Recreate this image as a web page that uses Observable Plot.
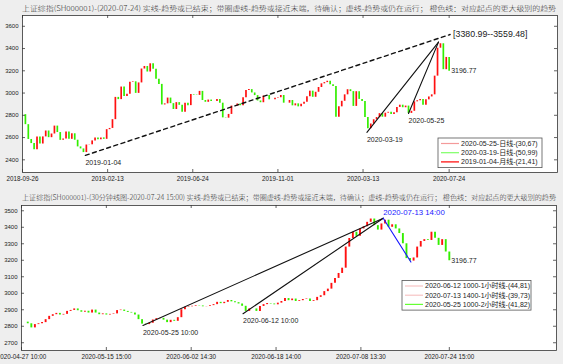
<!DOCTYPE html>
<html><head><meta charset="utf-8">
<script src="https://cdn.jsdelivr.net/npm/d3@7"></script>
<script src="https://cdn.jsdelivr.net/npm/@observablehq/plot@0.6"></script>
<style>
body{margin:0;background:#eeeeee;}
#root{position:relative;width:563px;height:364px;background:#eeeeee;overflow:hidden;font-family:"Liberation Sans",Arial,sans-serif;}
</style></head><body><div id="root"></div>
<script>
// ---------- top panel (daily) ----------
const titleTop = "上证综指(SH000001)-(2020-07-24) 实线-趋势或已结束；带圈虚线-趋势或接近末端，待确认；虚线-趋势或仍在运行；  橙色线：对应起点的更大级别的趋势";
const dayTickIdx = [0, 88, 176, 264, 352, 441];
const dayTickLabels = ["2018-09-26","2019-02-13","2019-06-24","2019-11-01","2020-03-13","2020-07-24"];
const dayYTicks = [2400, 2600, 2800, 3000, 3200, 3400, 3600];
const dayStep = 3; // one reading every 3 trading days
const dayClose = [
 2806,2716,2583,2546,2490,2604,2542,2606,2659,2599,2632,2703,2645,2575,2588,2649,2584,2634,2576,2516,
 2498,2465,2533,2535,2570,2596,2581,2597,2584,2671,2682,2761,2961,2941,3054,2969,2990,3096,3101,2997,
 3091,3216,3239,3189,3263,3215,3124,3078,2893,2903,2955,2905,2852,2914,2890,2827,2909,2887,2987,2982,
 2979,3015,2933,2917,2937,2924,2923,2941,2909,2777,2774,2808,2883,2883,2902,2886,2957,3024,3031,3001,
 2977,2929,2913,2973,2978,2939,2940,2954,2958,2978,2909,2909,2933,2885,2903,2876,2899,2917,2967,3017,
 2962,3007,3050,3083,3094,3106,3075,3060,2783,2876,2926,2984,3030,3013,2880,3012,2943,2923,2780,2680,
 2722,2760,2780,2815,2783,2819,2827,2808,2822,2871,2891,2868,2883,2817,2836,2921,2931,2943,2890,2939,
 2965,2984,3152,3403,3443,3210,3320,3197
];
const dayDashed = [{i:65, v:2440}, {i:442, v:3526}];
const daySolidA = [{i:356, v:2646}, {i:430, v:3458}];
const daySolidB = [{i:399, v:2816}, {i:430, v:3458}];
const dayPivotLabels = [{i:65, v:2440, t:"2019-01-04"}, {i:356, v:2646, t:"2020-03-19"}, {i:399, v:2816, t:"2020-05-25"}];
const dayTarget = {i:442, v:3526, t:"[3380.99--3559.48]"};
const dayLast = {i:441, v:3196.77, t:"3196.77"};
const dayLegend = [
  {t:"2020-05-25-日线-(30,67)", c:"#f49a9a"},
  {t:"2020-03-19-日线-(50,99)", c:"#7dff66"},
  {t:"2019-01-04-月线-(21,41)", c:"#ff0000"}
];

// ---------- bottom panel (30 minute) ----------
const titleBottom = "上证综指(SH000001)-(30分钟线图-2020-07-24 15:00) 实线-趋势或已结束；带圈虚线-趋势或接近末端，待确认；虚线-趋势或仍在运行；  橙色线：对应起点的更大级别的趋势";
const minTickIdx = [0, 95, 190, 285, 380, 479];
const minTickLabels = ["2020-04-27 10:00","2020-05-15 15:00","2020-06-02 14:30","2020-06-18 14:00","2020-07-08 13:30","2020-07-24 15:00"];
const minYTicks = [2700, 2800, 2900, 3000, 3100, 3200, 3300, 3400, 3500];
const minStep = 4; // readings at 11:30 and 15:00 of each day
const minClose = [
 2825,2815, 2790,2810, 2815,2822, 2840,2860, 2870,2878, 2868,2872, 2890,2896, 2905,2894, 2885,2891, 2880,2898,
 2880,2870, 2875,2868, 2872,2875, 2895,2898, 2890,2884, 2880,2868, 2840,2813, 2810,2818, 2838,2846, 2848,2837,
 2822,2836, 2830,2852, 2900,2915, 2918,2921, 2925,2923, 2918,2919, 2925,2931, 2945,2937, 2945,2956, 2948,2943,
 2935,2921, 2890,2905, 2905,2890, 2920,2931, 2938,2935, 2930,2940, 2950,2968, 2955,2965, 2950,2955, 2962,2965,
 2950,2955, 2975,2985, 3010,3025, 3060,3090, 3120,3152, 3280,3332, 3370,3345, 3390,3403, 3430,3450, 3410,3383,
 3420,3443, 3400,3415, 3390,3362, 3300,3210, 3195,3214, 3280,3314, 3325,3320, 3370,3333, 3290,3325, 3250,3197
];
const minSolidA = [{i:136, v:2805}, {i:405, v:3455}];
const minSolidB = [{i:248, v:2876}, {i:405, v:3455}];
const minBlue = [{i:405, v:3455}, {i:436, v:3189}];
const minPivotLabels = [{i:136, v:2805, t:"2020-05-25 10:00"}, {i:248, v:2876, t:"2020-06-12 10:00"}];
const minPeak = {i:405, v:3455, t:"2020-07-13 14:00"};
const minLast = {i:479, v:3196.77, t:"3196.77"};
const minLegend = [
  {t:"2020-06-12 1000-1小时线-(44,81)", c:"#f7c4c4"},
  {t:"2020-07-13 1400-1小时线-(39,73)", c:"#f7c4c4"},
  {t:"2020-05-25 1000-2小时线-(41,82)", c:"#66ff33"}
];

const UP = "#ff1010", DOWN = "#33ee00", INK = "#222";
const root = document.getElementById("root");

function candles(close, step, offset) {
  return close.map((c, k) => ({i: k * step + offset, o: k ? close[k - 1] : c, c}));
}

function panel({top, height, mt, mb, ml, mr, xDomain, yDomain, ticksX, labelsX, ticksY, data, cw, extra}) {
  const fw = 563 - ml - mr, fh = height - mt - mb;
  const p = Plot.plot({
    width: 563, height, marginTop: mt, marginBottom: mb, marginLeft: ml, marginRight: mr,
    x: {domain: xDomain, label: null}, y: {domain: yDomain, label: null},
    style: {background: "transparent", fontFamily: "Liberation Sans, Arial, sans-serif", color: INK},
    marks: [
      Plot.frame({fill: "white", stroke: null}),
      Plot.ruleX(data, {x: "i", y1: "o", y2: "c", stroke: d => d.c >= d.o ? UP : DOWN, strokeWidth: cw}),
      ...extra,
      Plot.axisY(ticksY, {anchor: "left", label: null, tickSize: 0, tickPadding: 4, fontSize: 6, tickFormat: d => String(d)}),
      Plot.axisX(ticksX, {anchor: "bottom", label: null, tickSize: 0, tickPadding: 4.5, fontSize: 6.3, tickFormat: d => labelsX[ticksX.indexOf(d)]}),
      Plot.tickY(ticksY, {y: d => d, insetRight: fw - 3, stroke: INK, strokeWidth: 0.7}),
      Plot.tickY(ticksY, {y: d => d, insetLeft: fw - 3, stroke: INK, strokeWidth: 0.7}),
      Plot.tickX(ticksX, {x: d => d, insetTop: fh - 3, stroke: INK, strokeWidth: 0.7}),
      Plot.tickX(ticksX, {x: d => d, insetBottom: fh - 3, stroke: INK, strokeWidth: 0.7}),
      Plot.frame({stroke: "#333", strokeWidth: 0.8})
    ]
  });
  p.style.position = "absolute"; p.style.left = "0px"; p.style.top = top + "px";
  root.appendChild(p);
}

const txt = (data, o) => Plot.text(data, {x: "i", y: "v", text: "t", textAnchor: "start", fontSize: 7, fill: INK, fontFamily: "Liberation Sans, Arial, sans-serif", ...o});

panel({
  top: 10, height: 180, mt: 5, mb: 18, ml: 22, mr: 6,
  xDomain: [0, 553], yDomain: [2286, 3697],
  ticksX: dayTickIdx, labelsX: dayTickLabels, ticksY: dayYTicks,
  data: candles(dayClose, dayStep, 0), cw: 1.7,
  extra: [
    Plot.line(dayDashed, {x: "i", y: "v", stroke: "#111", strokeWidth: 1.4, strokeDasharray: "4,3.5"}),
    Plot.line(daySolidA, {x: "i", y: "v", stroke: "#111", strokeWidth: 1.1}),
    Plot.line(daySolidB, {x: "i", y: "v", stroke: "#111", strokeWidth: 1.1}),
    txt(dayPivotLabels, {dy: 7}),
    txt([dayTarget], {dx: 3, fontSize: 8.8}),
    txt([dayLast], {dx: 2})
  ]
});

panel({
  top: 200, height: 164, mt: 5, mb: 14, ml: 21, mr: 7,
  xDomain: [0, 599], yDomain: [2653, 3532],
  ticksX: minTickIdx, labelsX: minTickLabels, ticksY: minYTicks,
  data: candles(minClose, minStep, 3), cw: 1.9,
  extra: [
    Plot.line(minSolidA, {x: "i", y: "v", stroke: "#111", strokeWidth: 1.1}),
    Plot.line(minSolidB, {x: "i", y: "v", stroke: "#111", strokeWidth: 1.1}),
    Plot.line(minBlue, {x: "i", y: "v", stroke: "#1515ff", strokeWidth: 1.1}),
    txt(minPivotLabels, {dy: 7}),
    txt([minPeak], {dy: -6, fill: "#1a1aff", fontSize: 7.8}),
    txt([minLast], {dx: 2})
  ]
});

// ---------- titles and legends ----------
const ov = d3.select(root).append("svg").attr("width", 563).attr("height", 364)
  .style("position", "absolute").style("left", "0px").style("top", "0px");
function title(t, y) {
  ov.append("text").attr("x", 22).attr("y", y).attr("textLength", 534).attr("lengthAdjust", "spacingAndGlyphs")
    .attr("font-size", 7).attr("font-weight", 300).attr("font-family", "Noto Sans CJK SC").attr("fill", "#333").text(t);
}
title(titleTop, 11);
title(titleBottom, 200);
function legend(items, x, y, w, rowH, lineW) {
  const g = ov.append("g");
  g.append("rect").attr("x", x).attr("y", y).attr("width", w).attr("height", rowH * items.length + 2)
    .attr("fill", "white").attr("stroke", "#555").attr("stroke-width", 0.8);
  items.forEach((it, k) => {
    const cy = y + 5.5 + k * rowH;
    g.append("line").attr("x1", x + 3).attr("x2", x + 3 + lineW).attr("y1", cy).attr("y2", cy)
      .attr("stroke", it.c).attr("stroke-width", 1.2);
    g.append("text").attr("x", x + 5 + lineW).attr("y", cy).attr("dy", "0.35em").attr("font-size", 7)
      .attr("font-family", "Liberation Sans, Noto Sans CJK SC, sans-serif").attr("fill", INK).text(it.t);
  });
}
legend(dayLegend, 438, 138, 104, 9.2, 18);
legend(minLegend, 402, 280.5, 129, 9.2, 18);
</script></body></html>
